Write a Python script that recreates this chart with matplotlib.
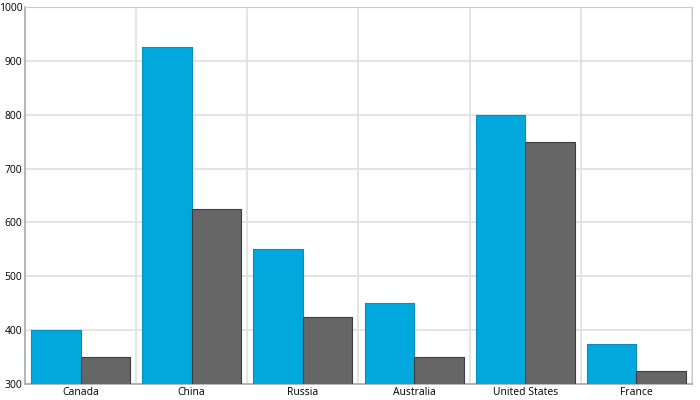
import numpy as np
import matplotlib
matplotlib.use("Agg")
import matplotlib.pyplot as plt

paises = ["Canada", "China", "Russia", "Australia", "United States", "France"]
serie_azul = [400, 925, 550, 450, 800, 375]
serie_cinza = [350, 625, 425, 350, 750, 325]
ticks_y = [300, 400, 500, 600, 700, 800, 900, 1000]

plt.rcParams["font.family"] = ["Open Sans", "DejaVu Sans"]

fig = plt.figure(figsize=(7, 4), dpi=100)
ax = fig.add_axes([25 / 700, 16 / 400, 667 / 700, 377 / 400])

x = np.arange(len(paises))
larg = 0.445
ax.bar(x - larg / 2, serie_azul, width=larg, color="#00A8DE",
       edgecolor="#0B8DBB", linewidth=0.8, joinstyle="round", zorder=3)
ax.bar(x + larg / 2, serie_cinza, width=larg, color="#666666",
       edgecolor="#3E3E3E", linewidth=0.8, joinstyle="round", zorder=3)

ax.set_xlim(-0.5, len(paises) - 0.5)
ax.set_ylim(300, 1000)
ax.set_yticks(ticks_y)
ax.set_xticks(x)
ax.set_xticklabels(paises, fontsize=7.5)
ax.set_xticks(np.arange(len(paises) + 1) - 0.5, minor=True)
ax.tick_params(axis="y", labelsize=7.5, length=0, pad=2)
ax.tick_params(axis="x", which="both", length=0, pad=2)

# grade mais clara, como no original
ax.grid(axis="y", color="#e2e2e2", linewidth=1.3, zorder=0)
ax.grid(axis="x", which="minor", color="#e2e2e2", linewidth=1.3, zorder=0)

for lado in ["top", "right"]:
    ax.spines[lado].set_color("#cccccc")
for lado in ["left", "bottom"]:
    ax.spines[lado].set_color("#aaaaaa")
    ax.spines[lado].set_linewidth(1.2)

fig.savefig("out.png", dpi=100)
